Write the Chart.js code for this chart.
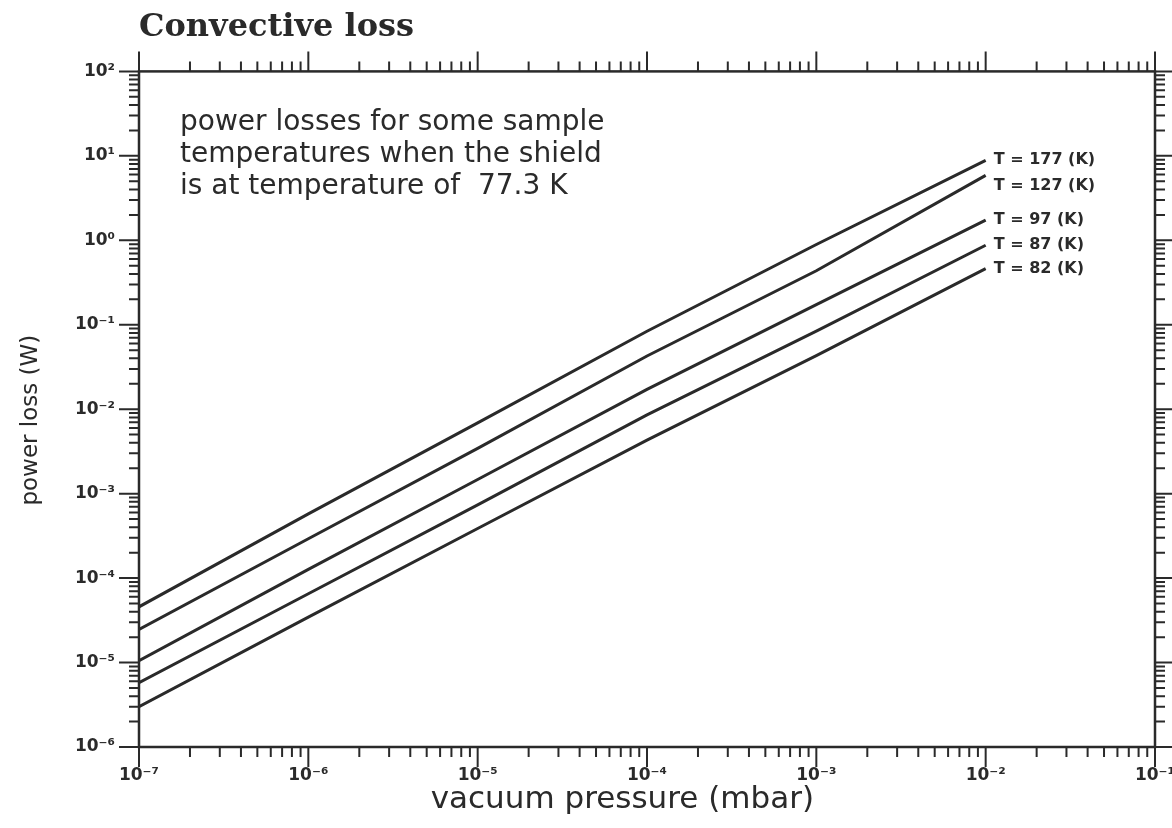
<!DOCTYPE html>
<html lang="en">
<head>
  <meta charset="UTF-8">
  <title>Convective loss</title>
  <script src="https://cdn.jsdelivr.net/npm/chart.js"></script>
  <style>
    html, body {
      margin: 0;
      padding: 0;
      background-color: #fff;
    }
    .chart-box {
      width: 1172px;
      height: 828px;
    }
  </style>
</head>
<body>
  <div class="chart-box">
    <canvas id="lossChart" width="1172" height="828"></canvas>
  </div>

  <script>
    // pressure points (mbar) where the curves were read
    const pressure = [1e-7, 1e-6, 1e-5, 1e-4, 1e-3, 1e-2];

    // power loss (W) for each object temperature
    const loss177 = [4.57e-5, 5.77e-4, 6.89e-3, 0.0838, 0.891, 8.85];
    const loss127 = [2.47e-5, 2.92e-4, 3.43e-3, 0.0427, 0.436, 5.88];
    const loss97  = [1.05e-5, 1.27e-4, 1.47e-3, 0.0172, 0.173, 1.73];
    const loss87  = [5.77e-6, 6.52e-5, 7.37e-4, 8.57e-3, 0.0842, 0.873];
    const loss82  = [3.00e-6, 3.45e-5, 3.87e-4, 4.30e-3, 0.0430, 0.462];

    const temps = [177, 127, 97, 87, 82];
    const noteLines = [
      "power losses for some sample",
      "temperatures when the shield",
      "is at temperature of  77.3 K"
    ];

    const ink = '#2a2a2a';
    const sup = { '-': '\u207B', '0': '\u2070', '1': '\u00B9', '2': '\u00B2', '3': '\u00B3',
                  '4': '\u2074', '5': '\u2075', '6': '\u2076', '7': '\u2077', '8': '\u2078', '9': '\u2079' };

    function isDecade(v) {
      const l = Math.log10(v);
      return Math.abs(l - Math.round(l)) < 1e-9;
    }
    function isWhole(v) {
      const m = v / Math.pow(10, Math.floor(Math.log10(v) + 1e-9));
      return Math.abs(m - Math.round(m)) < 1e-6;
    }
    function powLabel(v) {
      if (!isDecade(v)) return '';
      const e = String(Math.round(Math.log10(v)));
      return '10' + e.split('').map(c => sup[c]).join('');
    }

    // frame with log ticks on all four sides
    const frameTicks = {
      id: 'frameTicks',
      afterDraw(chart) {
        const { ctx, chartArea: a, scales: { x, y } } = chart;
        ctx.save();
        ctx.strokeStyle = ink;
        ctx.lineWidth = 2.5;
        ctx.strokeRect(a.left, a.top, a.right - a.left, a.bottom - a.top);
        ctx.lineWidth = 2;
        ctx.beginPath();
        x.ticks.forEach(t => {
          if (!isWhole(t.value)) return;
          const px = x.getPixelForValue(t.value);
          const len = isDecade(t.value) ? 20 : 10;
          ctx.moveTo(px, a.bottom); ctx.lineTo(px, a.bottom + len);
          ctx.moveTo(px, a.top); ctx.lineTo(px, a.top - len);
        });
        y.ticks.forEach(t => {
          if (!isWhole(t.value)) return;
          const py = y.getPixelForValue(t.value);
          const len = isDecade(t.value) ? 20 : 10;
          ctx.moveTo(a.left - len, py); ctx.lineTo(a.left, py);
          ctx.moveTo(a.right, py); ctx.lineTo(a.right + len, py);
        });
        ctx.stroke();
        ctx.restore();
      }
    };

    // "T = ... (K)" at the end of each curve, plus the note in the corner
    const curveNotes = {
      id: 'curveNotes',
      afterDatasetsDraw(chart) {
        const { ctx, chartArea: a } = chart;
        ctx.save();
        ctx.fillStyle = ink;
        ctx.textBaseline = 'middle';
        ctx.font = 'bold 16px "DejaVu Sans"';
        chart.data.datasets.forEach((ds, i) => {
          const pts = chart.getDatasetMeta(i).data;
          const end = pts[pts.length - 1];
          ctx.fillText(ds.label, end.x + 8, end.y + (ds.labelShift || 0));
        });
        ctx.font = '28px "DejaVu Sans"';
        noteLines.forEach((line, i) => {
          ctx.fillText(line, a.left + 41, a.top + 51 + i * 32);
        });
        ctx.restore();
      }
    };

    const series = [loss177, loss127, loss97, loss87, loss82];
    const datasets = series.map((vals, i) => ({
      label: 'T = ' + temps[i] + ' (K)',
      data: pressure.map((p, k) => ({ x: p, y: vals[k] })),
      borderColor: ink,
      borderWidth: 3,
      pointRadius: 0,
      fill: false,
      tension: 0,
      labelShift: temps[i] === 127 ? 11 : 0
    }));

    const ctx = document.getElementById('lossChart').getContext('2d');
    const lossChart = new Chart(ctx, {
      type: 'line',
      data: { datasets: datasets },
      plugins: [frameTicks, curveNotes],
      options: {
        responsive: false,
        animation: false,
        layout: { padding: { left: 8, right: 17, top: 0, bottom: 8 } },
        scales: {
          x: {
            type: 'logarithmic',
            min: 1e-7,
            max: 1e-1,
            grid: { display: false, drawTicks: false },
            border: { display: false },
            ticks: {
              autoSkip: false,
              maxRotation: 0,
              padding: 18,
              color: ink,
              font: { family: 'DejaVu Sans', size: 17, weight: 'bold' },
              callback: v => powLabel(v)
            },
            title: {
              display: true,
              // trailing spaces nudge the centred title a little to the left
              text: 'vacuum pressure (mbar)     ',
              color: ink,
              padding: { top: 0, bottom: 1 },
              font: { family: 'DejaVu Sans', size: 31 }
            },
            afterFit: s => {
              s.height = 73;
              s.paddingLeft = 0;
              s.paddingRight = 0;
            }
          },
          y: {
            type: 'logarithmic',
            min: 1e-6,
            max: 1e2,
            grid: { display: false, drawTicks: false },
            border: { display: false },
            ticks: {
              autoSkip: false,
              padding: 24,
              color: ink,
              font: { family: 'DejaVu Sans', size: 17, weight: 'bold' },
              callback: v => powLabel(v)
            },
            title: {
              display: true,
              text: 'power loss (W)   ',
              color: ink,
              padding: { top: 9, bottom: 0 },
              font: { family: 'DejaVu Sans', size: 23 }
            },
            afterFit: s => {
              s.width = 131;
              s.paddingTop = 0;
              s.paddingBottom = 0;
            }
          }
        },
        plugins: {
          legend: { display: false },
          tooltip: { enabled: false },
          title: {
            display: true,
            text: 'Convective loss',
            align: 'start',
            fullSize: false,
            color: ink,
            padding: { top: 8, bottom: 25 },
            font: { family: 'DejaVu Serif', size: 32, weight: 'bold', lineHeight: 1.2 }
          }
        }
      }
    });
  </script>
</body>
</html>
